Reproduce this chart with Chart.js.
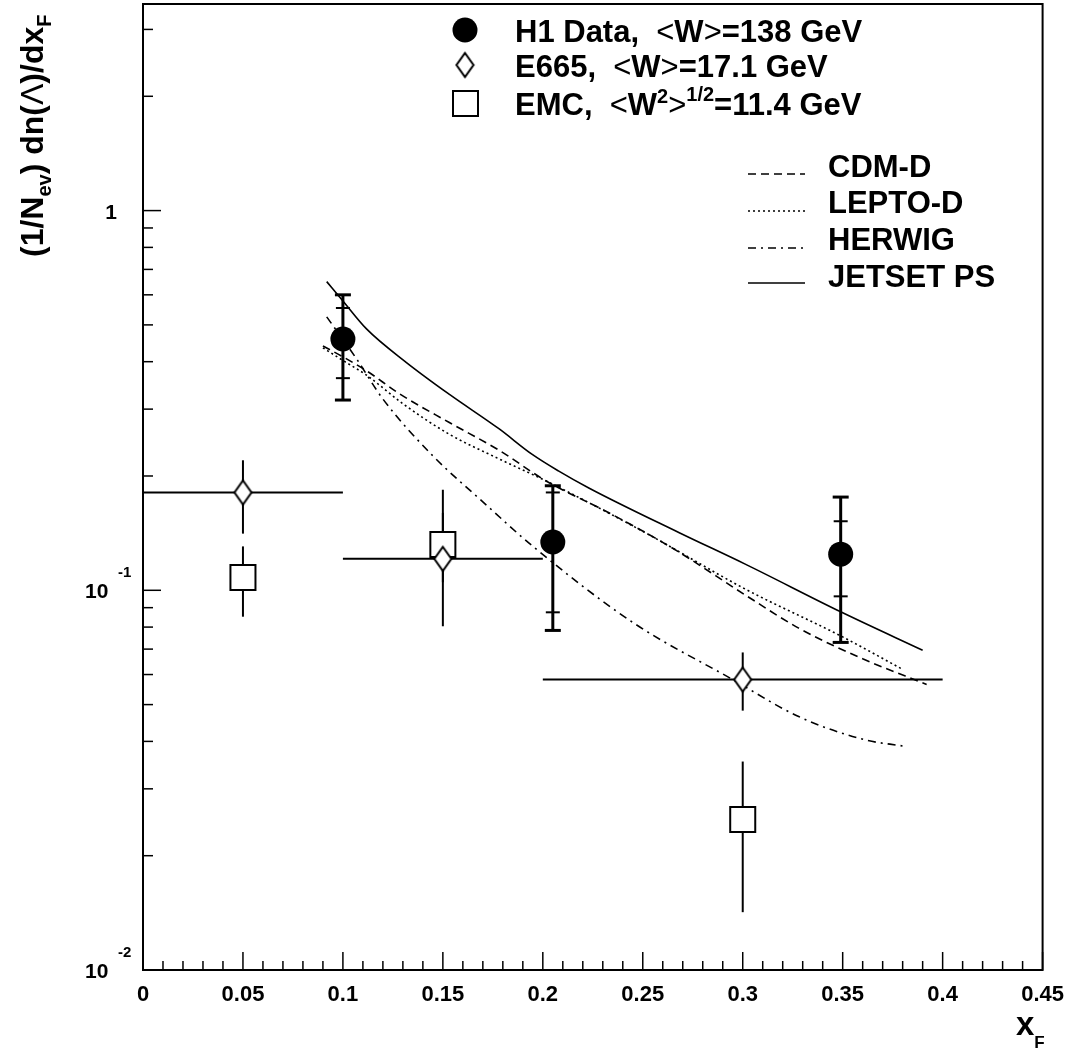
<!DOCTYPE html>
<html lang="en">
  <head>
    <meta charset="UTF-8" />
    <title>Lambda xF distribution</title>
    <script src="https://cdn.jsdelivr.net/npm/chart.js"></script>
    <style>
      body { margin: 0; background: #fff; }
      #box { width: 1076px; height: 1051px; }
    </style>
  </head>
  <body>
    <div id="box"><canvas id="myChart"></canvas></div>

    <script>
      // axis ticks
      const xTickValues = [0, 0.05, 0.1, 0.15, 0.2, 0.25, 0.3, 0.35, 0.4, 0.45];
      const xTickLabels = ["0", "0.05", "0.1", "0.15", "0.2", "0.25", "0.3", "0.35", "0.4", "0.45"];
      const yTickValues = [0.01, 0.1, 1];
      const yTickLabels = [["10", "-2"], ["10", "-1"], ["1", ""]];

      // H1 data, <W>=138 GeV
      const h1X = [0.1, 0.205, 0.349];
      const h1Y = [0.459, 0.134, 0.1245];
      const h1StatLo = [0.362, 0.0875, 0.0964];
      const h1StatHi = [0.554, 0.181, 0.152];
      const h1TotLo = [0.317, 0.0784, 0.0729];
      const h1TotHi = [0.600, 0.1885, 0.176];

      // E665, <W>=17.1 GeV
      const e665X = [0.05, 0.15, 0.3];
      const e665Y = [0.181, 0.121, 0.0582];
      const e665XLo = [0, 0.1, 0.2];
      const e665XHi = [0.1, 0.2, 0.4];
      const e665YLo = [0.141, 0.0804, 0.0482];
      const e665YHi = [0.220, 0.184, 0.0686];

      // EMC, <W^2>^1/2=11.4 GeV
      const emcX = [0.05, 0.15, 0.3];
      const emcY = [0.108, 0.132, 0.0249];
      const emcYLo = [0.0852, 0.105, 0.0142];
      const emcYHi = [0.1305, 0.16, 0.0354];

      // model curves
      const cdmX = [0.09, 0.1, 0.112, 0.128, 0.153, 0.178, 0.2017, 0.233, 0.265, 0.3015, 0.328, 0.36, 0.392];
      const cdmY = [0.44, 0.412, 0.378, 0.33, 0.277, 0.234, 0.194, 0.160, 0.129, 0.097, 0.0795, 0.066, 0.0565];
      const leptoX = [0.09, 0.1, 0.112, 0.13, 0.153, 0.178, 0.2017, 0.25, 0.3015, 0.3495, 0.38];
      const leptoY = [0.435, 0.403, 0.368, 0.31, 0.258, 0.222, 0.194, 0.143, 0.1006, 0.0756, 0.0619];
      const herwigX = [0.0919, 0.1068, 0.12, 0.145, 0.17, 0.1947, 0.245, 0.295, 0.328, 0.361, 0.38];
      const herwigY = [0.525, 0.407, 0.319, 0.226, 0.171, 0.131, 0.0823, 0.0582, 0.0465, 0.0404, 0.0389];
      const jetsetX = [0.0919, 0.0999, 0.1118, 0.1318, 0.1533, 0.1782, 0.1947, 0.208, 0.223, 0.268, 0.3015, 0.3495, 0.39];
      const jetsetY = [0.650, 0.579, 0.488, 0.398, 0.328, 0.266, 0.228, 0.206, 0.186, 0.142, 0.117, 0.0875, 0.0695];

      const B = (s) => `bold ${s}px "Liberation Sans", Arial, sans-serif`;
      const N = (s) => `${s}px "Liberation Sans", Arial, sans-serif`;

      const pts = (xs, ys) => xs.map((x, i) => ({ x: x, y: ys[i] }));

      // tall open diamond used for E665
      function makeDiamond() {
        const c = document.createElement("canvas");
        c.width = 21;
        c.height = 28;
        const g = c.getContext("2d");
        g.beginPath();
        g.moveTo(10.5, 2);
        g.lineTo(19, 14);
        g.lineTo(10.5, 26);
        g.lineTo(2, 14);
        g.closePath();
        g.fillStyle = "#fff";
        g.fill();
        g.lineWidth = 2;
        g.strokeStyle = "#000";
        g.stroke();
        return c;
      }
      const diamond = makeDiamond();

      function rich(ctx, parts, x, y) {
        let cx = x;
        for (const p of parts) {
          ctx.font = p.f;
          ctx.fillText(p.t, cx, y + (p.dy || 0));
          cx += ctx.measureText(p.t).width;
        }
      }

      function vline(ctx, x, y1, y2) {
        ctx.beginPath();
        ctx.moveTo(x, y1);
        ctx.lineTo(x, y2);
        ctx.stroke();
      }
      function hline(ctx, x1, x2, y) {
        ctx.beginPath();
        ctx.moveTo(x1, y);
        ctx.lineTo(x2, y);
        ctx.stroke();
      }

      const decor = {
        id: "decor",
        beforeDatasetsDraw(chart) {
          const ctx = chart.ctx;
          const xs = chart.scales.x;
          const ys = chart.scales.y;
          ctx.save();
          ctx.strokeStyle = "#000";
          ctx.lineCap = "butt";

          // E665 and EMC error bars
          ctx.lineWidth = 2;
          e665X.forEach((x, i) => {
            const px = xs.getPixelForValue(x);
            const py = ys.getPixelForValue(e665Y[i]);
            hline(ctx, xs.getPixelForValue(e665XLo[i]), xs.getPixelForValue(e665XHi[i]), py);
            vline(ctx, px, ys.getPixelForValue(e665YLo[i]), ys.getPixelForValue(e665YHi[i]));
          });
          emcX.forEach((x, i) => {
            const px = xs.getPixelForValue(x);
            vline(ctx, px, ys.getPixelForValue(emcYLo[i]), ys.getPixelForValue(emcYHi[i]));
          });

          // H1 error bars: total with caps, statistical marked by ticks
          h1X.forEach((x, i) => {
            const px = xs.getPixelForValue(x);
            const t1 = ys.getPixelForValue(h1TotHi[i]);
            const t2 = ys.getPixelForValue(h1TotLo[i]);
            ctx.lineWidth = 3;
            vline(ctx, px, t1, t2);
            hline(ctx, px - 8, px + 8, t1);
            hline(ctx, px - 8, px + 8, t2);
            ctx.lineWidth = 2;
            hline(ctx, px - 7, px + 7, ys.getPixelForValue(h1StatHi[i]));
            hline(ctx, px - 7, px + 7, ys.getPixelForValue(h1StatLo[i]));
          });
          ctx.restore();
        },
        afterDraw(chart) {
          const ctx = chart.ctx;
          const a = chart.chartArea;
          const xs = chart.scales.x;
          const ys = chart.scales.y;
          ctx.save();
          ctx.strokeStyle = "#000";
          ctx.fillStyle = "#000";

          // frame
          ctx.lineWidth = 2;
          ctx.strokeRect(a.left, a.top, a.right - a.left, a.bottom - a.top);

          // x ticks inside the frame
          ctx.lineWidth = 1.5;
          xTickValues.forEach((v) => {
            const px = xs.getPixelForValue(v);
            vline(ctx, px, a.bottom, a.bottom - 18);
          });
          for (let i = 1; i < 45; i++) {
            if (i % 5 === 0) continue;
            const px = xs.getPixelForValue(i / 100);
            vline(ctx, px, a.bottom, a.bottom - 9);
          }

          // y ticks (log)
          yTickValues.forEach((v) => {
            const py = ys.getPixelForValue(v);
            hline(ctx, a.left, a.left + 18, py);
            for (let m = 2; m <= 9; m++) {
              const mv = v * m;
              if (mv > ys.max) break;
              const my = ys.getPixelForValue(mv);
              hline(ctx, a.left, a.left + 10, my);
            }
          });

          // y tick labels
          ctx.textBaseline = "alphabetic";
          yTickValues.forEach((v, i) => {
            const py = ys.getPixelForValue(v);
            const [base, exp] = yTickLabels[i];
            if (exp) {
              ctx.textAlign = "left";
              ctx.font = B(21);
              ctx.fillText(base, 85, py + 8);
              ctx.font = B(15);
              ctx.fillText(exp, 118, py - 13);
            } else {
              ctx.textAlign = "center";
              ctx.font = B(21);
              ctx.fillText(base, 111, py + 8);
            }
          });

          // axis titles
          ctx.textAlign = "left";
          rich(ctx, [
            { t: "x", f: B(33) },
            { t: "F", f: B(17), dy: 13 },
          ], 1016, 1035);

          ctx.save();
          ctx.translate(43, 257);
          ctx.rotate(-Math.PI / 2);
          rich(ctx, [
            { t: "(1/N", f: B(32) },
            { t: "ev", f: B(20), dy: 8 },
            { t: ") dn(", f: B(32) },
            { t: "\u039B", f: N(32) },
            { t: ")/dx", f: B(32) },
            { t: "F", f: B(20), dy: 8 },
          ], 0, 0);
          ctx.restore();

          // data legend
          ctx.beginPath();
          ctx.arc(465, 30, 12.5, 0, Math.PI * 2);
          ctx.fill();
          ctx.drawImage(diamond, 465 - 10.5, 65 - 14);
          ctx.lineWidth = 2;
          ctx.strokeRect(453, 91, 25, 25);

          rich(ctx, [
            { t: "H1 Data,  ", f: B(31) },
            { t: "<", f: N(31) },
            { t: "W", f: B(31) },
            { t: ">", f: N(31) },
            { t: "=138 GeV", f: B(31) },
          ], 515, 42);
          rich(ctx, [
            { t: "E665,  ", f: B(31) },
            { t: "<", f: N(31) },
            { t: "W", f: B(31) },
            { t: ">", f: N(31) },
            { t: "=17.1 GeV", f: B(31) },
          ], 515, 77);
          rich(ctx, [
            { t: "EMC,  ", f: B(31) },
            { t: "<", f: N(31) },
            { t: "W", f: B(31) },
            { t: "2", f: B(20), dy: -12 },
            { t: ">", f: N(31) },
            { t: "1/2", f: B(20), dy: -14 },
            { t: "=11.4 GeV", f: B(31) },
          ], 515, 115);

          // model legend
          const models = chart.data.datasets.slice(3);
          const lineY = [174, 211, 248, 283];
          const textY = [177, 213, 250, 287];
          models.forEach((ds, i) => {
            ctx.lineWidth = ds.borderWidth;
            ctx.setLineDash(ds.borderDash || []);
            hline(ctx, 748, 805, lineY[i]);
            ctx.setLineDash([]);
            ctx.font = B(31);
            ctx.fillText(ds.label, 828, textY[i]);
          });
          ctx.restore();
        },
      };

      const ctx = document.getElementById("myChart");

      const myChart = new Chart(ctx, {
        type: "scatter",
        data: {
          datasets: [
            {
              label: "H1 Data",
              data: pts(h1X, h1Y),
              pointStyle: "circle",
              pointRadius: 12.5,
              pointBackgroundColor: "#000",
              pointBorderWidth: 0,
              order: 0,
            },
            {
              label: "E665",
              data: pts(e665X, e665Y),
              pointStyle: diamond,
              order: 1,
            },
            {
              label: "EMC",
              data: pts(emcX, emcY),
              pointStyle: "rect",
              pointRadius: 17.7,
              pointBackgroundColor: "#fff",
              pointBorderColor: "#000",
              pointBorderWidth: 2,
              order: 2,
            },
            {
              label: "CDM-D",
              data: pts(cdmX, cdmY),
              showLine: true,
              borderColor: "#000",
              borderWidth: 1.6,
              borderDash: [8, 5],
              pointRadius: 0,
              cubicInterpolationMode: "monotone",
              order: 3,
            },
            {
              label: "LEPTO-D",
              data: pts(leptoX, leptoY),
              showLine: true,
              borderColor: "#000",
              borderWidth: 1.6,
              borderDash: [2, 3],
              pointRadius: 0,
              cubicInterpolationMode: "monotone",
              order: 4,
            },
            {
              label: "HERWIG",
              data: pts(herwigX, herwigY),
              showLine: true,
              borderColor: "#000",
              borderWidth: 1.6,
              borderDash: [8, 5, 2, 5],
              pointRadius: 0,
              cubicInterpolationMode: "monotone",
              order: 5,
            },
            {
              label: "JETSET PS",
              data: pts(jetsetX, jetsetY),
              showLine: true,
              borderColor: "#000",
              borderWidth: 1.6,
              pointRadius: 0,
              cubicInterpolationMode: "monotone",
              order: 6,
            },
          ],
        },
        options: {
          responsive: true,
          maintainAspectRatio: false,
          animation: false,
          layout: { autoPadding: false, padding: { left: 0, top: 4, right: 31, bottom: 0 } },
          plugins: {
            legend: { display: false },
            tooltip: { enabled: false },
          },
          scales: {
            x: {
              type: "linear",
              min: 0,
              max: 0.45,
              afterBuildTicks: (s) => {
                s.ticks = xTickValues.map((v) => ({ value: v }));
              },
              afterFit: (s) => {
                s.height = 81;
              },
              grid: { display: false, drawTicks: false },
              border: { display: false },
              ticks: {
                padding: 12,
                maxRotation: 0,
                autoSkip: false,
                color: "#000",
                font: { family: '"Liberation Sans", Arial, sans-serif', size: 22, weight: "bold" },
                callback: (v, i) => xTickLabels[i],
              },
            },
            y: {
              type: "logarithmic",
              min: 0.01,
              max: 3.5,
              afterFit: (s) => {
                s.width = 143;
              },
              grid: { display: false, drawTicks: false },
              border: { display: false },
              ticks: { display: false },
            },
          },
        },
        plugins: [decor],
      });
    </script>
  </body>
</html>
